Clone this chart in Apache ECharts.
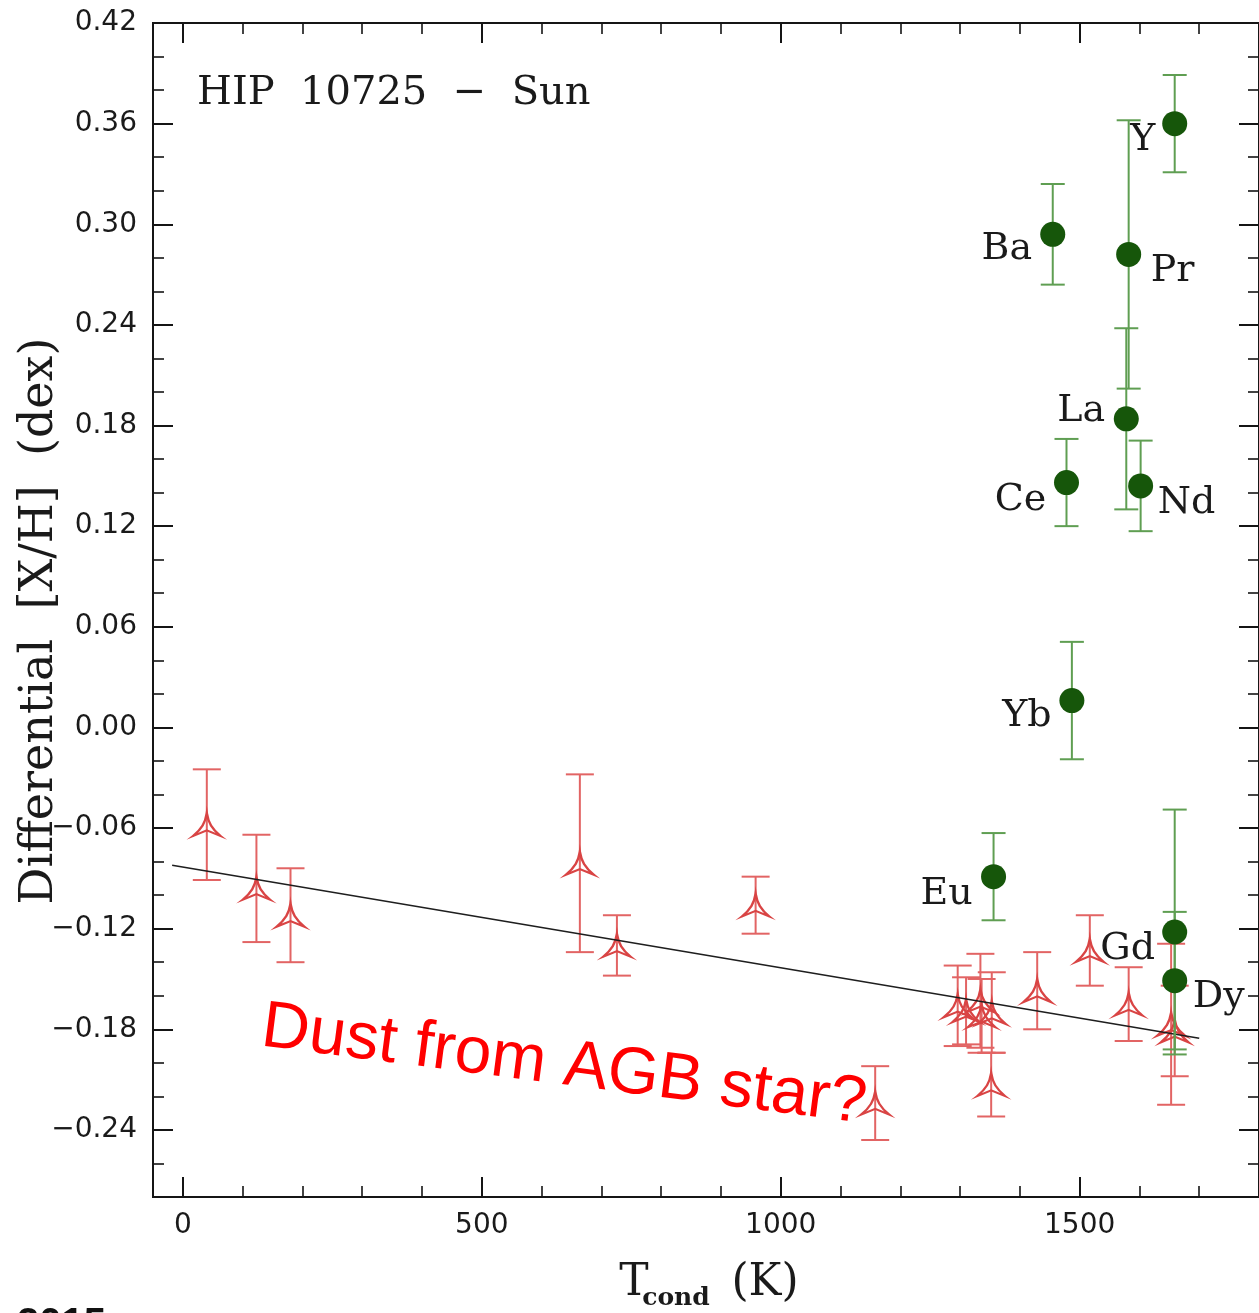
<!DOCTYPE html>
<html>
<head>
<meta charset="utf-8">
<script src="https://cdn.jsdelivr.net/npm/echarts@6.0.0/dist/echarts.min.js"></script>
<style>
  html, body { margin: 0; padding: 0; background: #ffffff; }
  #chart { width: 1259px; height: 1313px; }
</style>
</head>
<body>
<div id="chart"></div>
<script>
// Neutron-capture elements (filled circles) — condensation temperature (K), [X/H], error
const elementsGreen = ['Y', 'Ba', 'Pr', 'La', 'Ce', 'Nd', 'Yb', 'Eu', 'Gd', 'Dy'];
const tcondGreen    = [1659, 1455, 1582, 1578, 1478, 1602, 1487, 1356, 1659, 1659];
const valuesGreen   = [0.360, 0.294, 0.282, 0.184, 0.146, 0.144, 0.016, -0.089, -0.122, -0.151];
const errGreen      = [0.029, 0.030, 0.080, 0.054, 0.026, 0.027, 0.035, 0.026, 0.073, 0.041];

// Lighter elements (open arrowheads)
const tcondRed  = [40, 123, 180, 664, 726, 958, 1158, 1296, 1310, 1334, 1336, 1352, 1353, 1429, 1517, 1582, 1653, 1659];
const valuesRed = [-0.058, -0.096, -0.112, -0.081, -0.130, -0.106, -0.224, -0.166, -0.169, -0.163, -0.172, -0.213, -0.170, -0.157, -0.133, -0.165, -0.177, -0.181];
const errRed    = [0.033, 0.032, 0.028, 0.053, 0.018, 0.017, 0.022, 0.024, 0.020, 0.028, 0.022, 0.019, 0.024, 0.023, 0.021, 0.022, 0.048, 0.027];

// Linear trend of [X/H] against Tcond (end points)
const fitT = [-18, 1700];
const fitV = [-0.0822, -0.1853];

// Axis ticks
const xMajorTicks = [0, 500, 1000, 1500];
const xMinorTicks = [100, 200, 300, 400, 600, 700, 800, 900, 1100, 1200, 1300, 1400, 1600, 1700];
const yMajorTicks = [-0.24, -0.18, -0.12, -0.06, 0.00, 0.06, 0.12, 0.18, 0.24, 0.30, 0.36, 0.42];
const yMinorTicks = [-0.26, -0.22, -0.20, -0.16, -0.14, -0.10, -0.08, -0.04, -0.02, 0.02, 0.04,
                     0.08, 0.10, 0.14, 0.16, 0.20, 0.22, 0.26, 0.28, 0.32, 0.34, 0.38, 0.40];

// Label placement around each filled circle (pixel offsets)
const labelOffset = {
  Y: [-32, 16], Ba: [-46, 15], Pr: [44, 17], La: [-45, -8], Ce: [-46, 18],
  Nd: [46, 17], Yb: [-45, 16], Eu: [-47, 17], Gd: [-47, 17], Dy: [44, 16]
};

const AXIS_COLOR = '#151515';
const SERIF = '"DejaVu Serif", "Liberation Serif", serif';
const SANS = '"DejaVu Sans", "Liberation Sans", sans-serif';

const chart = echarts.init(document.getElementById('chart'), null, { renderer: 'canvas' });

function fmtY(v) {
  const r = Math.round(v * 100) / 100;
  const s = Math.abs(r).toFixed(2);
  return r < 0 ? '\u2212' + s : s;
}

function xAxisDef(position, ticks, len, withLabels) {
  return {
    type: 'value', min: -50, max: 1800, position: position,
    splitLine: { show: false },
    axisLine: { show: true, onZero: false, lineStyle: { color: AXIS_COLOR, width: 2 } },
    axisTick: { show: true, inside: true, length: len, customValues: ticks,
                lineStyle: { color: AXIS_COLOR, width: len > 15 ? 2 : 1.6 } },
    axisLabel: withLabels
      ? { show: true, customValues: ticks, margin: 15, color: '#1a1a1a',
          fontFamily: SANS, fontSize: 28, formatter: v => String(v) }
      : { show: false }
  };
}

function yAxisDef(position, ticks, len, withLabels) {
  return {
    type: 'value', min: -0.28, max: 0.42, position: position,
    splitLine: { show: false },
    axisLine: { show: true, onZero: false, lineStyle: { color: AXIS_COLOR, width: 2 } },
    axisTick: { show: true, inside: true, length: len, customValues: ticks,
                lineStyle: { color: AXIS_COLOR, width: len > 15 ? 2 : 1.6 } },
    axisLabel: withLabels
      ? { show: true, customValues: ticks, margin: 16, color: '#1a1a1a',
          fontFamily: SANS, fontSize: 28, formatter: fmtY }
      : { show: false }
  };
}

function errorBars(t, v, e, color, halfCap, width, z) {
  return {
    type: 'custom', xAxisIndex: 0, yAxisIndex: 0, z: z, silent: true,
    data: t.map((x, i) => [x, v[i], e[i]]),
    renderItem: function (params, api) {
      const x = api.value(0), y = api.value(1), err = api.value(2);
      const hi = api.coord([x, y + err]);
      const lo = api.coord([x, y - err]);
      const st = { stroke: color, lineWidth: width };
      return {
        type: 'group',
        children: [
          { type: 'line', shape: { x1: hi[0], y1: hi[1], x2: lo[0], y2: lo[1] }, style: st },
          { type: 'line', shape: { x1: hi[0] - halfCap, y1: hi[1], x2: hi[0] + halfCap, y2: hi[1] }, style: st },
          { type: 'line', shape: { x1: lo[0] - halfCap, y1: lo[1], x2: lo[0] + halfCap, y2: lo[1] }, style: st }
        ]
      };
    }
  };
}

const arrowHead = 'path://M14,0 C15.5,9 19,15 28,22 L14,16.5 L0,22 C9,15 12.5,9 14,0 Z';

const option = {
  backgroundColor: '#ffffff',
  animation: false,
  grid: { left: 153, top: 23, width: 1106, height: 1174, containLabel: false },
  xAxis: [
    xAxisDef('bottom', xMajorTicks, 20, true),
    xAxisDef('bottom', xMinorTicks, 11, false),
    xAxisDef('top', xMajorTicks, 20, false),
    xAxisDef('top', xMinorTicks, 11, false)
  ],
  yAxis: [
    yAxisDef('left', yMajorTicks, 20, true),
    yAxisDef('left', yMinorTicks, 11, false),
    yAxisDef('right', yMajorTicks, 20, false),
    yAxisDef('right', yMinorTicks, 11, false)
  ],
  series: [
    errorBars(tcondRed, valuesRed, errRed, '#e26464', 14, 2, 2),
    {
      type: 'scatter', xAxisIndex: 0, yAxisIndex: 0, z: 3, silent: true,
      symbol: arrowHead, symbolSize: [28, 23], symbolKeepAspect: false,
      itemStyle: { color: 'rgba(255,255,255,0)', borderColor: '#d94444', borderWidth: 2.2, opacity: 1 },
      data: tcondRed.map((x, i) => [x, valuesRed[i]])
    },
    {
      type: 'line', xAxisIndex: 0, yAxisIndex: 0, z: 4, silent: true,
      symbol: 'none', lineStyle: { color: '#1e1e1e', width: 1.6 },
      data: fitT.map((x, i) => [x, fitV[i]])
    },
    errorBars(tcondGreen, valuesGreen, errGreen, '#5f9e52', 12, 2, 5),
    {
      type: 'scatter', xAxisIndex: 0, yAxisIndex: 0, z: 6, silent: true,
      symbol: 'circle', symbolSize: 25,
      itemStyle: { color: '#16560a', opacity: 1 },
      label: {
        show: true, position: 'inside', formatter: p => p.name,
        color: '#1a1a1a', fontFamily: SERIF, fontSize: 38,
        align: 'center', verticalAlign: 'middle'
      },
      data: elementsGreen.map((name, i) => ({
        name: name,
        value: [tcondGreen[i], valuesGreen[i]],
        label: { offset: labelOffset[name] }
      }))
    }
  ],
  graphic: [
    {
      type: 'text', left: 197, top: 74, silent: true,
      style: { text: 'HIP  10725  \u2212  Sun', fill: '#1a1a1a', font: '40px ' + SERIF }
    },
    {
      type: 'text', x: 40, y: 621, rotation: Math.PI / 2, silent: true,
      style: { text: 'Differential  [X/H]  (dex)', fill: '#1a1a1a', font: '46px ' + SERIF,
               align: 'center', verticalAlign: 'middle' }
    },
    {
      type: 'text', x: 634, y: 1284, silent: true,
      style: { text: 'T', fill: '#1a1a1a', font: '44px ' + SERIF, align: 'center', verticalAlign: 'middle' }
    },
    {
      type: 'text', x: 676, y: 1298, silent: true,
      style: { text: 'cond', fill: '#1a1a1a', font: 'bold 25px ' + SERIF, align: 'center', verticalAlign: 'middle' }
    },
    {
      type: 'text', x: 765, y: 1284, silent: true,
      style: { text: '(K)', fill: '#1a1a1a', font: '44px ' + SERIF, align: 'center', verticalAlign: 'middle' }
    },
    {
      type: 'text', x: 564, y: 1066, rotation: -0.128, silent: true,
      style: { text: 'Dust from AGB star?', fill: '#ff0000',
               font: '66px "Liberation Sans", Arial, sans-serif', align: 'center', verticalAlign: 'middle' }
    },
    {
      type: 'text', left: 17, top: 1305, silent: true,
      style: { text: '2015', fill: '#111111', font: 'bold 40px "Liberation Sans", Arial, sans-serif' }
    }
  ]
};

chart.setOption(option);
</script>
</body>
</html>
